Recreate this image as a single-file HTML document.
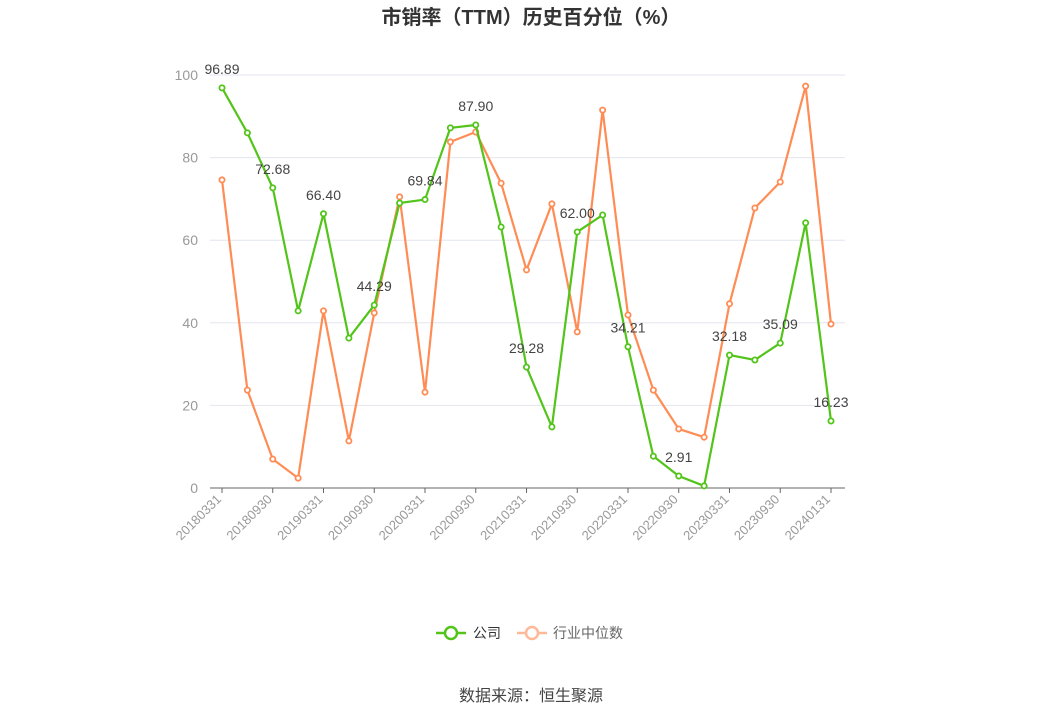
<!DOCTYPE html>
<html><head><meta charset="utf-8"><style>
body{margin:0;background:#fff;font-family:"Liberation Sans","Noto Sans CJK SC",sans-serif;}
svg text{font-family:"Liberation Sans","Noto Sans CJK SC",sans-serif;}
</style></head><body>
<svg id="c" width="1062" height="718" xmlns="http://www.w3.org/2000/svg">
<text x="531" y="24" text-anchor="middle" font-size="20" font-weight="bold" fill="#333">市销率（TTM）历史百分位（%）</text>
<g id="grid"></g>
<g id="axes"></g>
<g id="series"></g>
<g>
<g>
<line x1="436" y1="633" x2="466" y2="633" stroke="#52c41a" stroke-width="2.5"/>
<circle cx="451" cy="633" r="6" fill="#fff" stroke="#52c41a" stroke-width="2.5"/>
<text x="473" y="638" font-size="14" fill="#333">公司</text></g>
<g>
<line x1="517" y1="633" x2="547" y2="633" stroke="#ffb999" stroke-width="2.5"/>
<circle cx="532" cy="633" r="6" fill="#fff" stroke="#ffb999" stroke-width="2.5"/>
<text x="553" y="638" font-size="14" fill="#666">行业中位数</text></g>
</g>
<text x="531" y="701" text-anchor="middle" font-size="16" fill="#444">数据来源：恒生聚源</text>
</svg>
<script>
const categories=["20180331","20180630","20180930","20181231","20190331","20190630","20190930","20191231","20200331","20200630","20200930","20201231","20210331","20210630","20210930","20211231","20220331","20220630","20220930","20221231","20230331","20230630","20230930","20231231","20240131"];
const companyValues=[96.89,86.0,72.68,42.9,66.40,36.3,44.29,69.0,69.84,87.2,87.90,63.2,29.28,14.8,62.00,66.1,34.21,7.7,2.91,0.5,32.18,31.0,35.09,64.2,16.23];
const industryValues=[74.6,23.7,7.0,2.4,42.9,11.4,42.4,70.5,23.2,83.8,86.2,73.8,52.8,68.8,37.8,91.5,41.9,23.7,14.3,12.3,44.6,67.8,74.1,97.3,39.7];
const yTicks=[0,20,40,60,80,100];
const NS="http://www.w3.org/2000/svg";
const x0=222,x1=831,yb=488,yt=75;
const xs=i=>x0+(x1-x0)*i/(categories.length-1);
const ys=v=>yb-(yb-yt)*v/100;
function mk(tag,attrs,parent,txt){const e=document.createElementNS(NS,tag);for(const k in attrs)e.setAttribute(k,attrs[k]);if(txt!==undefined)e.textContent=txt;parent.appendChild(e);return e;}
const grid=document.getElementById('grid'),axes=document.getElementById('axes'),ser=document.getElementById('series');
yTicks.forEach(t=>{
 if(t>0){const l=mk('line',{x1:210,x2:845,y1:ys(t),y2:ys(t),stroke:'#e3e6f0','stroke-width':1},grid);
 
 }
 const tx=mk('text',{x:198,y:ys(t)+5,'text-anchor':'end','font-size':14,fill:'#999'},axes,String(t));
 
 
});
const ax=mk('line',{x1:210,x2:845,y1:yb,y2:yb,stroke:'#666','stroke-width':1},axes);


categories.forEach((c,i)=>{
 if(i%2)return;
 const x=xs(i);
 const tk=mk('line',{x1:x,x2:x,y1:yb,y2:yb+5,stroke:'#666'},axes);
 
 
 const t=mk('text',{x:x,y:yb+12,'text-anchor':'end','font-size':13,fill:'#999',transform:`rotate(-45 ${x} ${yb+12})`},axes,c);
 
 
});
function series(vals,color,name,labels){
 const p=mk('polyline',{points:vals.map((v,i)=>xs(i)+','+ys(v)).join(' '),fill:'none',stroke:color,'stroke-width':2.2},ser);
 
 
 vals.forEach((v,i)=>{
  const c=mk('circle',{cx:xs(i),cy:ys(v),r:2.6,fill:'#fff',stroke:color,'stroke-width':1.8},ser);
  
  
  if(labels&&i%2===0){
   const t=mk('text',{x:xs(i),y:ys(v)-14,'text-anchor':'middle','font-size':14,fill:'#444'},ser,v.toFixed(2));
   
   
  }
 });
}
series(industryValues,'#ff8c55','industry',false);
series(companyValues,'#52c41a','company',true);
</script>
</body></html>
